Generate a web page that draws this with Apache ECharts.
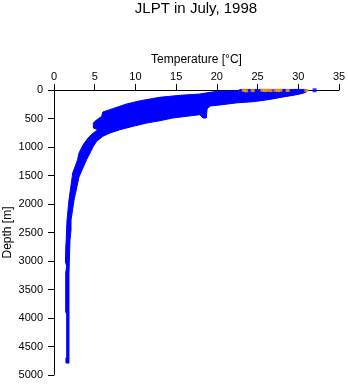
<!DOCTYPE html>
<html><head><meta charset="utf-8">
<script src="https://cdn.jsdelivr.net/npm/echarts@6/dist/echarts.min.js"></script>
<style>html,body{margin:0;padding:0;background:#fff}#c{width:348px;height:384px}</style>
</head><body><div id="c"></div>
<script>
const titleText = 'JLPT in July, 1998';
const xName = 'Temperature [°C]';
const yName = 'Depth [m]';
const xMin = 0, xMax = 35, xStep = 5;
const yMin = 0, yMax = 5000, yStep = 500;

// Envelope of all blue profile points: [temperature °C, depth m]
// cold / shallow side, surface -> bottom
const coldEdge = [
  [31.0, -10], [22.8, -10], [22.8, 15], [20.0, 23], [17.9, 70], [15.5, 93],
  [13.0, 128], [10.6, 188], [8.9, 246], [7.2, 328], [6.0, 386], [5.86, 461],
  [5.03, 549], [4.83, 579], [4.83, 667], [5.4, 696], [4.83, 754], [4.18, 842],
  [3.56, 965], [3.07, 1105], [2.9, 1223], [2.3, 1456], [1.84, 1930], [1.6, 2281],
  [1.5, 2632], [1.45, 2754], [1.41, 3018], [1.56, 3088], [1.44, 3211],
  [1.44, 3895], [1.56, 3930], [1.56, 4684], [1.47, 4702], [1.47, 4790]
];
// warm / deep side, bottom -> surface
const warmEdge = [
  [1.84, 4790], [1.84, 4684], [1.84, 3895], [1.84, 3211], [1.88, 3018],
  [1.96, 2632], [2.09, 2456], [2.09, 2281], [2.46, 1930], [3.07, 1526],
  [4.0, 1223], [4.42, 1105], [4.83, 988], [5.24, 900], [6.0, 812], [6.9, 754],
  [8.1, 696], [9.7, 637], [11.4, 579], [13.0, 539], [14.6, 491], [16.3, 461],
  [17.9, 433], [18.3, 491], [18.7, 491], [18.8, 330], [19.2, 281], [20.4, 262],
  [22.5, 225], [24.5, 205], [26.5, 165], [28.0, 125], [29.5, 90], [30.5, 60], [31.0, 35]
];
const blueSurface = [[32.0, 5]];
const orangeT = [23.3, 23.6, 24.4, 25.6, 25.9, 26.2, 26.6, 27.2, 27.5, 27.8, 28.7, 31.0];
const orangeD = [5, 15, 10, 5, 10, 5, 10, 5, 10, 5, 10, 10];

const font = 'Liberation Sans, Arial, sans-serif';
const chart = echarts.init(document.getElementById('c'), null, {renderer: 'canvas'});
chart.setOption({
  animation: false,
  backgroundColor: '#fff',
  title: {
    text: titleText, left: 196, top: 1, textAlign: 'center', padding: 0,
    textStyle: {fontFamily: font, fontSize: 15, fontWeight: 'normal', color: '#000'}
  },
  grid: {left: 54, top: 90, width: 285, height: 285, containLabel: false, outerBoundsMode: 'none'},
  xAxis: {
    type: 'value', position: 'top', min: xMin, max: xMax, interval: xStep,
    name: xName, nameLocation: 'middle', nameGap: 24, nameMoveOverlap: false,
    nameTextStyle: {fontFamily: font, fontSize: 12, color: '#000'},
    axisLine: {show: true, onZero: false, lineStyle: {color: '#000', width: 1}},
    axisTick: {show: true, inside: false, length: 6, lineStyle: {color: '#000', width: 1}},
    axisLabel: {margin: 8, color: '#000', fontSize: 11, fontFamily: font, formatter: v => String(v)},
    splitLine: {show: false}
  },
  yAxis: {
    type: 'value', inverse: true, min: yMin, max: yMax, interval: yStep,
    name: yName, nameLocation: 'middle', nameGap: 40, nameRotate: 90, nameMoveOverlap: false,
    nameTextStyle: {fontFamily: font, fontSize: 12, color: '#000'},
    axisLine: {show: true, onZero: false, lineStyle: {color: '#000', width: 1}},
    axisTick: {show: true, inside: false, length: 6, lineStyle: {color: '#000', width: 1}},
    axisLabel: {margin: 11, color: '#000', fontSize: 11, fontFamily: font, formatter: v => String(v)},
    splitLine: {show: false}
  },
  series: [
    {
      type: 'custom', clip: false, silent: true,
      data: [[coldEdge[0][0], coldEdge[0][1]]],
      renderItem: function (params, api) {
        const pts = coldEdge.concat(warmEdge).map(p => api.coord(p));
        return {type: 'polygon', shape: {points: pts}, style: {fill: '#0000ff', stroke: '#0000ff', lineWidth: 1}};
      }
    },
    {
      type: 'scatter', data: blueSurface, symbol: 'rect', symbolSize: [4, 4],
      itemStyle: {color: '#0000ff'}, silent: true
    },
    {
      type: 'scatter', data: orangeT.map((t, i) => [t, orangeD[i]]), symbol: 'rect', symbolSize: [4, 3],
      itemStyle: {color: '#ffa500'}, silent: true
    }
  ]
});
</script></body></html>
